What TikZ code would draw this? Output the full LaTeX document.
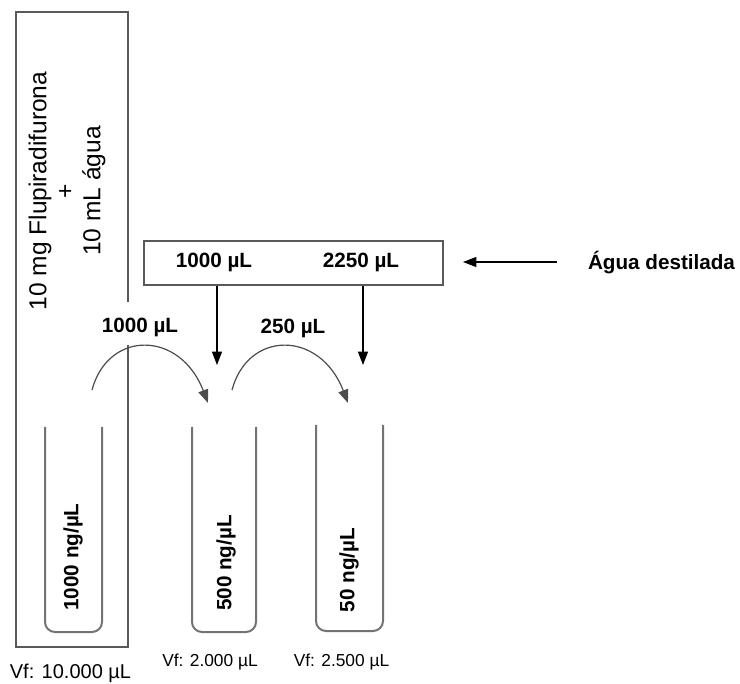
\documentclass[tikz,border=0pt]{standalone}
\usepackage{fontspec}
\setmainfont{Liberation Sans}
\usetikzlibrary{arrows.meta}
\begin{document}
\begin{tikzpicture}[x=0.75pt,y=-0.75pt,
  frame/.style={draw=black!65, line width=1.1pt},
  tube/.style={draw=black!55, line width=1.5pt, rounded corners=7.5pt},
  arr/.style={draw=black, line width=0.9pt, -{Triangle[length=10pt,width=7.5pt]}},
  curv/.style={draw=black!70, line width=0.9pt, -{Triangle[length=10pt,width=7.5pt]}},
  lbl/.style={font=\fontsize{15.5}{18}\selectfont\bfseries, inner sep=0pt},
  vbig/.style={font=\fontsize{15}{18}\selectfont, inner sep=0pt},
  vsmall/.style={font=\fontsize{13}{16}\selectfont, inner sep=0pt},
  stock/.style={font=\fontsize{18.4}{20.3}\selectfont, align=center, rotate=90, inner sep=0pt}]
\useasboundingbox (0,0) rectangle (740,684);
% stock solution frame (open on the right around the transfer label)
\draw[frame] (128,302) -- (128,12) -- (16,12) -- (16,647) -- (128,647) -- (128,345);
\node[stock] (stock) at (67,191) {10 mg Flupiradifurona\\+\\10 mL água};
% tubes
\draw[tube] (45,427) -- (45,632) -- (102,632) -- (102,427);
\draw[tube] (192,427) -- (192,632) -- (256,632) -- (256,427);
\draw[tube] (316,425) -- (316,631) -- (383,631) -- (383,425);
\node[lbl, rotate=90] (c1) at (73,557) {1000 ng/µL};
\node[lbl, rotate=90] (c2) at (226,563) {500 ng/µL};
\node[lbl, rotate=90] (c3) at (349,570) {50 ng/µL};
\node[vbig] (vf1) at (70.5,673) {Vf: 10.000 µL};
\node[vsmall] (vf2) at (210,662) {Vf: 2.000 µL};
\node[vsmall] (vf3) at (341.5,662) {Vf: 2.500 µL};
% water box
\node[frame, minimum width=224.25pt, minimum height=33pt, inner sep=0pt] (box) at (293.5,263) {};
\node[lbl] (w1) at (214,262) {1000 µL};
\node[lbl] (w2) at (361,262) {2250 µL};
\node[lbl] (agua) at (661.5,263) {Água destilada};
\coordinate (aguastart) at (557,262);
\coordinate (aguaend) at (463,262);
\draw[arr] (aguastart) -- (aguaend);
\coordinate (d1) at (217,365);
\coordinate (d2) at (363,365);
\draw[arr] (box.south -| d1) -- (d1);
\draw[arr] (box.south -| d2) -- (d2);
% transfers
\node[lbl] (tr1) at (140,327) {1000 µL};
\node[lbl] (tr2) at (293,328) {250 µL};
\coordinate (a1s) at (92,390);
\coordinate (a1e) at (208,403);
\coordinate (a2s) at (232,390);
\coordinate (a2e) at (348,403);
\draw[curv] (a1s) .. controls (108,330) and (180,330) .. (a1e);
\draw[curv] (a2s) .. controls (248,330) and (320,330) .. (a2e);
\end{tikzpicture}
\end{document}
